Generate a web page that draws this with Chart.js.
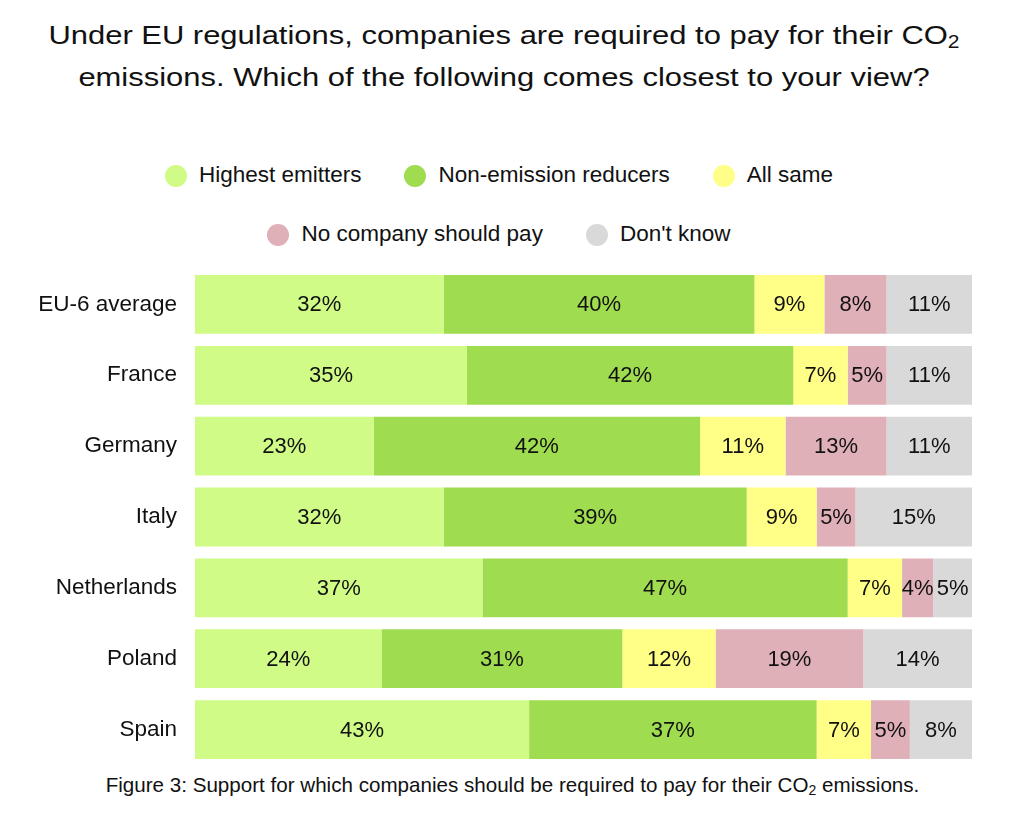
<!DOCTYPE html>
<html>
<head>
<meta charset="utf-8">
<script src="https://cdn.jsdelivr.net/npm/chart.js@4.4.1/dist/chart.umd.min.js"></script>
<style>
  body { margin: 0; background: #fff; font-family: "Liberation Sans", Arial, sans-serif; color: #111; }
  #page { position: relative; width: 1024px; height: 820px; overflow: hidden; }
  #title { position: absolute; left: -8px; top: 14px; width: 1024px; text-align: center; font-size: 26px; line-height: 42px;
           transform: scaleX(1.19); transform-origin: 50% 0; white-space: nowrap; }
  sub { font-size: 0.68em; vertical-align: -0.22em; line-height: 0; }
  .legendRow { position: absolute; left: 0; width: 998px; display: flex; justify-content: center; font-size: 22.5px; line-height: 26px; }
  .legendItem { display: flex; align-items: center; margin: 0 21.5px; }
  .dot { width: 22px; height: 22px; border-radius: 50%; margin-right: 12px; position: relative; top: 1px; }
  #chartBox { position: absolute; left: 0; top: 269px; width: 1024px; height: 496px; }
  #caption { position: absolute; left: 0; top: 773px; width: 1025px; text-align: center; font-size: 20.6px; line-height: 24px; }
</style>
</head>
<body>
<div id="page">
  <div id="title">Under EU regulations, companies are required to pay for their CO<sub>2</sub><br>emissions. Which of the following comes closest to your view?</div>
  <div class="legendRow" id="legend1" style="top:162px"></div>
  <div class="legendRow" id="legend2" style="top:221px"></div>
  <div id="chartBox"><canvas id="surveyChart" width="1024" height="496"></canvas></div>
  <div id="caption">Figure 3: Support for which companies should be required to pay for their CO<sub>2</sub> emissions.</div>
</div>
<script>
// Categories and answer series (percent)
const countries = ['EU-6 average', 'France', 'Germany', 'Italy', 'Netherlands', 'Poland', 'Spain'];
const seriesNames = ['Highest emitters', 'Non-emission reducers', 'All same', 'No company should pay', "Don't know"];
const seriesColors = ['#d0fb86', '#9fdc50', '#ffff88', '#e0b0b8', '#d9d9d9'];

const highestEmitters = [32, 35, 23, 32, 37, 24, 43];
const nonEmissionReducers = [40, 42, 42, 39, 47, 31, 37];
const allSame = [9, 7, 11, 9, 7, 12, 7];
const noCompany = [8, 5, 13, 5, 4, 19, 5];
const dontKnow = [11, 11, 11, 15, 5, 14, 8];

const seriesValues = [highestEmitters, nonEmissionReducers, allSame, noCompany, dontKnow];

// Legend (two rows, like the original)
function buildLegend() {
    const rows = [document.getElementById('legend1'), document.getElementById('legend2')];
    seriesNames.forEach(function(name, i) {
        const item = document.createElement('div');
        item.className = 'legendItem';
        const dot = document.createElement('span');
        dot.className = 'dot';
        dot.style.background = seriesColors[i];
        const txt = document.createElement('span');
        txt.textContent = name;
        item.appendChild(dot);
        item.appendChild(txt);
        rows[i < 3 ? 0 : 1].appendChild(item);
    });
}

// Draws the percent label in the middle of every segment
const segmentLabels = {
    id: 'segmentLabels',
    afterDatasetsDraw: function(chart) {
        const ctx = chart.ctx;
        ctx.save();
        ctx.font = '22px "Liberation Sans", Arial, sans-serif';
        ctx.fillStyle = '#111';
        ctx.textAlign = 'center';
        ctx.textBaseline = 'middle';
        chart.data.datasets.forEach(function(ds, i) {
            chart.getDatasetMeta(i).data.forEach(function(bar, j) {
                const cx = (bar.x + bar.base) / 2;
                ctx.fillText(ds.data[j] + '%', cx, bar.y + 1);
            });
        });
        ctx.restore();
    }
};

function initSurveyChart() {
    const ctx = document.getElementById('surveyChart');
    new Chart(ctx, {
        type: 'bar',
        data: {
            labels: countries,
            datasets: seriesNames.map(function(name, i) {
                return {
                    label: name,
                    data: seriesValues[i],
                    backgroundColor: seriesColors[i],
                    borderWidth: 0,
                    categoryPercentage: 1,
                    barPercentage: 0.83
                };
            })
        },
        options: {
            indexAxis: 'y',
            responsive: false,
            animation: false,
            layout: { padding: { left: 0, right: 52, top: 0, bottom: 0 } },
            plugins: {
                legend: { display: false },
                tooltip: { enabled: false }
            },
            scales: {
                x: { stacked: true, min: 0, max: 100, display: false },
                y: {
                    stacked: true,
                    grid: { display: false, drawTicks: false },
                    border: { display: false },
                    ticks: {
                        color: '#111',
                        padding: 18,
                        font: { family: '"Liberation Sans", Arial, sans-serif', size: 22.5 }
                    },
                    afterFit: function(scale) {
                        // fixed label column, no extra vertical padding
                        scale.width = 195;
                        scale.paddingTop = 0;
                        scale.paddingBottom = 0;
                    }
                }
            }
        },
        plugins: [segmentLabels]
    });
}

document.addEventListener('DOMContentLoaded', function() {
    buildLegend();
    initSurveyChart();
});
</script>
</body>
</html>
